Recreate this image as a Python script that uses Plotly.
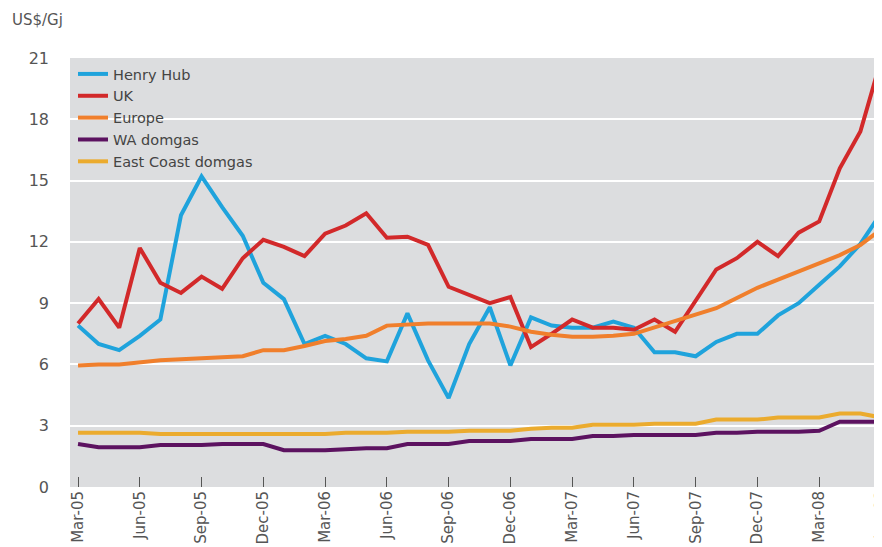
import plotly.graph_objects as go

months = ["Mar-05","Apr-05","May-05","Jun-05","Jul-05","Aug-05","Sep-05","Oct-05","Nov-05","Dec-05",
          "Jan-06","Feb-06","Mar-06","Apr-06","May-06","Jun-06","Jul-06","Aug-06","Sep-06","Oct-06",
          "Nov-06","Dec-06","Jan-07","Feb-07","Mar-07","Apr-07","May-07","Jun-07","Jul-07","Aug-07",
          "Sep-07","Oct-07","Nov-07","Dec-07","Jan-08","Feb-08","Mar-08","Apr-08","May-08","Jun-08"]

henry_hub = [7.9, 7.0, 6.7, 7.4, 8.2, 13.3, 15.2, 13.7, 12.3, 10.0,
             9.2, 7.0, 7.4, 7.0, 6.3, 6.15, 8.5, 6.2, 4.35, 7.0,
             8.8, 5.95, 8.3, 7.9, 7.8, 7.8, 8.1, 7.8, 6.6, 6.6,
             6.4, 7.1, 7.5, 7.5, 8.4, 9.0, 9.9, 10.8, 11.9, 13.4]

uk = [8.0, 9.2, 7.8, 11.7, 10.0, 9.5, 10.3, 9.7, 11.2, 12.1,
      11.75, 11.3, 12.4, 12.8, 13.4, 12.2, 12.25, 11.85, 9.8, 9.4,
      9.0, 9.3, 6.85, 7.5, 8.2, 7.8, 7.8, 7.7, 8.2, 7.6,
      9.1, 10.65, 11.2, 12.0, 11.3, 12.45, 13.0, 15.6, 17.4, 20.9]

europe = [5.95, 6.0, 6.0, 6.1, 6.2, 6.25, 6.3, 6.35, 6.4, 6.7,
          6.7, 6.9, 7.15, 7.25, 7.4, 7.9, 7.95, 8.0, 8.0, 8.0,
          8.0, 7.85, 7.6, 7.45, 7.35, 7.35, 7.4, 7.5, 7.8, 8.1,
          8.4, 8.75, 9.25, 9.75, 10.15, 10.55, 10.95, 11.35, 11.85, 12.6]

wa_domgas = [2.1, 1.95, 1.95, 1.95, 2.05, 2.05, 2.05, 2.1, 2.1, 2.1,
             1.8, 1.8, 1.8, 1.85, 1.9, 1.9, 2.1, 2.1, 2.1, 2.25,
             2.25, 2.25, 2.35, 2.35, 2.35, 2.5, 2.5, 2.55, 2.55, 2.55,
             2.55, 2.65, 2.65, 2.7, 2.7, 2.7, 2.75, 3.2, 3.2, 3.2]

east_coast = [2.65, 2.65, 2.65, 2.65, 2.6, 2.6, 2.6, 2.6, 2.6, 2.6,
              2.6, 2.6, 2.6, 2.65, 2.65, 2.65, 2.7, 2.7, 2.7, 2.75,
              2.75, 2.75, 2.85, 2.9, 2.9, 3.05, 3.05, 3.05, 3.1, 3.1,
              3.1, 3.3, 3.3, 3.3, 3.4, 3.4, 3.4, 3.6, 3.6, 3.4]

y_ticks = [0, 3, 6, 9, 12, 15, 18, 21]
x_ticks = months[::3]

series = [
    ("Henry Hub", henry_hub, "#1fa3dc"),
    ("UK", uk, "#d2292a"),
    ("Europe", europe, "#f07f2c"),
    ("WA domgas", wa_domgas, "#5c1260"),
    ("East Coast domgas", east_coast, "#ebab2e"),
]

fig = go.Figure()
for name, vals, col in series:
    fig.add_trace(go.Scatter(x=months, y=vals, name=name, mode="lines",
                             line=dict(color=col, width=4)))

# page body has an 8px default margin; figure sized to fill the rest of the window
W, H = 874, 539
L, R, T, B = 62, 0, 50, 60
pw, ph = W - L - R, H - T - B

font_family = "DejaVu Sans, sans-serif"
fig.update_layout(
    width=W, height=H,
    margin=dict(l=L, r=R, t=T, b=B, autoexpand=False),
    paper_bgcolor="white",
    plot_bgcolor="#dcdddf",
    font=dict(family=font_family, size=15, color="#555555"),
    showlegend=True,
    legend=dict(x=3 / pw, y=1.0, xanchor="left", yanchor="top",
                bgcolor="rgba(0,0,0,0)", font=dict(size=14.5, color="#444444"),
                itemwidth=30, tracegroupgap=0),
    annotations=[dict(text="US$/Gj", xref="paper", yref="paper",
                      x=(2 - L) / pw, y=1 + (T - 12) / ph, xanchor="left", yanchor="middle",
                      showarrow=False, font=dict(size=15, color="#555555"))],
)
fig.update_xaxes(
    type="category", range=[-0.39, 39.05],
    tickmode="array", tickvals=x_ticks, ticktext=x_ticks,
    tickangle=-90, ticks="inside", ticklen=10, tickcolor="#555555", tickwidth=1,
    showgrid=False, showline=False, zeroline=False, automargin=False,
    tickfont=dict(size=15, color="#555555"),
)
fig.update_yaxes(
    range=[0, 21], tickvals=y_ticks, showgrid=True, gridcolor="white", gridwidth=2,
    zeroline=False, showline=False, ticks="", ticklabelstandoff=20, automargin=False,
    tickfont=dict(size=16, color="#555555"),
)
fig.write_html("out.html")
